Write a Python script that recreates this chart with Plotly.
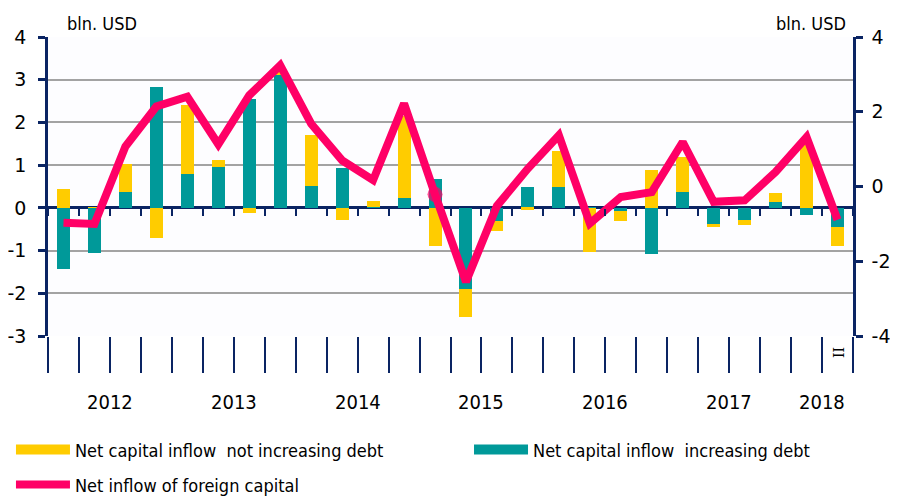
import plotly.graph_objects as go

quarters = ["2012 I", "2012 II", "2012 III", "2012 IV",
            "2013 I", "2013 II", "2013 III", "2013 IV",
            "2014 I", "2014 II", "2014 III", "2014 IV",
            "2015 I", "2015 II", "2015 III", "2015 IV",
            "2016 I", "2016 II", "2016 III", "2016 IV",
            "2017 I", "2017 II", "2017 III", "2017 IV",
            "2018 I", "2018 II"]
years = ["2012", "2013", "2014", "2015", "2016", "2017", "2018"]
quarters_per_year = [4, 4, 4, 4, 4, 4, 2]

not_increasing_debt = [0.44, 0.02, 0.66, -0.70, 1.60, 0.15, -0.12, 0.06,
                       1.18, -0.29, 0.15, 1.91, -0.90, -0.65, -0.23, -0.04,
                       0.86, -1.03, -0.23, 0.88, 0.82, -0.07, -0.10, 0.21,
                       1.47, -0.44]
increasing_debt = [-1.43, -1.05, 0.37, 2.82, 0.80, 0.96, 2.54, 3.11,
                   0.52, 0.93, 0.01, 0.24, 0.68, -1.90, -0.31, 0.48,
                   0.48, -0.01, -0.07, -1.07, 0.37, -0.38, -0.29, 0.13,
                   -0.17, -0.45]
net_inflow = [-0.97, -1.00, 1.07, 2.14, 2.40, 1.13, 2.44, 3.24,
              1.68, 0.70, 0.17, 2.22, -0.21, -2.55, -0.52, 0.48,
              1.37, -0.99, -0.28, -0.15, 1.19, -0.41, -0.37, 0.39,
              1.32, -0.89]
highlighted_quarter = "2015 I"

left_ticks = [4, 3, 2, 1, 0, -1, -2, -3]
right_ticks = [4, 2, 0, -2, -4]
last_quarter_label = "II"
unit_label = "bln. USD"
name_yellow = "Net capital inflow  not increasing debt"
name_teal = "Net capital inflow  increasing debt"
name_line = "Net inflow of foreign capital"

NAVY = "#0a2463"
YELLOW = "#FFCC00"
TEAL = "#009999"
PINK = "#FF0066"
FONT = "DejaVu Sans"
FONT_C = "DejaVu Sans Condensed"

x = list(range(len(quarters)))
n = len(quarters)

# year boundaries and centers from quarter counts
bounds = [-0.5]
centers = []
for q in quarters_per_year:
    centers.append(bounds[-1] + q / 2)
    bounds.append(bounds[-1] + q)
quarter_bounds = [i - 0.5 for i in range(n + 1)]

marker_sizes = [15 if q == highlighted_quarter else 0 for q in quarters]

fig = go.Figure()
fig.add_trace(go.Bar(x=x, y=increasing_debt, name=name_teal,
                     marker=dict(color=TEAL, line=dict(width=0)), width=0.42,
                     legendgroup="teal", showlegend=False, hovertext=quarters))
fig.add_trace(go.Bar(x=x, y=not_increasing_debt, name=name_yellow,
                     marker=dict(color=YELLOW, line=dict(width=0)), width=0.42,
                     legendgroup="yellow", showlegend=False, hovertext=quarters))
fig.add_trace(go.Scatter(x=x, y=net_inflow, name=name_line,
                         mode="lines+markers", line=dict(color=PINK, width=8),
                         marker=dict(color=PINK, size=marker_sizes, line=dict(width=0)),
                         yaxis="y2", legend="legend3", hovertext=quarters))
# legend keys for the bar series (wide rectangles, as in the original)
fig.add_trace(go.Scatter(x=[None], y=[None], name=name_yellow, mode="lines",
                         line=dict(color=YELLOW, width=12), legendgroup="yellow",
                         legend="legend", hoverinfo="skip"))
fig.add_trace(go.Scatter(x=[None], y=[None], name=name_teal, mode="lines",
                         line=dict(color=TEAL, width=12), legendgroup="teal",
                         legend="legend2", hoverinfo="skip"))
# empty helper trace so the zero-line tick axis is drawn
fig.add_trace(go.Scatter(x=[], y=[], xaxis="x2", yaxis="y", showlegend=False,
                         hoverinfo="skip"))

lo, hi = min(left_ticks), max(left_ticks)

leg_common = dict(orientation="h", xanchor="left", yanchor="middle",
                  font=dict(family=FONT_C, size=18, color="black"),
                  itemwidth=54, bgcolor="rgba(0,0,0,0)")

fig.update_layout(
    width=890, height=488,
    margin=dict(l=40, r=45, t=29, b=160, autoexpand=False),
    paper_bgcolor="white",
    plot_bgcolor="#fdfdff",
    barmode="relative",
    bargap=0,
    font=dict(family=FONT, size=19, color="black"),
    showlegend=True,
    legend=dict(x=-0.046, y=-0.381, **leg_common),
    legend2=dict(x=0.523, y=-0.381, **leg_common),
    legend3=dict(x=-0.046, y=-0.498, **leg_common),
    xaxis=dict(range=[-0.5, n - 0.5], tickmode="array", tickvals=bounds,
               ticktext=["" for _ in bounds], ticks="outside", ticklen=77,
               tickwidth=2, tickcolor=NAVY, showgrid=False, zeroline=False,
               showline=False, automargin=False,
               minor=dict(tickmode="array", tickvals=quarter_bounds, ticks="outside",
                          ticklen=36, tickwidth=2, tickcolor=NAVY, showgrid=False)),
    xaxis2=dict(overlaying="x", anchor="free", position=(0 - lo) / (hi - lo),
                range=[-0.5, n - 0.5], tickmode="array", tickvals=quarter_bounds,
                ticks="outside", ticklen=7, tickwidth=2, tickcolor=NAVY,
                showticklabels=False, showgrid=False, zeroline=False, showline=False,
                automargin=False),
    yaxis=dict(range=[lo, hi], tickmode="array", tickvals=left_ticks,
               ticktext=[str(v) for v in left_ticks],
               ticks="outside", ticklen=7, tickwidth=2.5, tickcolor=NAVY,
               showline=True, linecolor=NAVY, linewidth=2.5,
               showgrid=True, gridcolor="#a3a3a3", gridwidth=1.5,
               zeroline=True, zerolinecolor=NAVY, zerolinewidth=2.5,
               ticklabelstandoff=8, automargin=False),
    yaxis2=dict(overlaying="y", side="right", range=[min(right_ticks), max(right_ticks)],
                tickmode="array", tickvals=right_ticks,
                ticktext=[str(v) for v in right_ticks],
                ticks="outside", ticklen=7, tickwidth=2.5, tickcolor=NAVY,
                showline=True, linecolor=NAVY, linewidth=2.5,
                showgrid=False, zeroline=False, ticklabelstandoff=5,
                automargin=False),
)

annotations = []
for c, yl in zip(centers, years):
    annotations.append(dict(x=c, y=-0.222, xref="x", yref="paper", text=yl,
                            showarrow=False, font=dict(family=FONT_C, size=20),
                            xanchor="center", yanchor="middle"))
annotations.append(dict(x=n - 1, y=-0.055, xref="x", yref="paper",
                        text=last_quarter_label, textangle=90, showarrow=False,
                        font=dict(family="DejaVu Serif", size=14),
                        xanchor="center", yanchor="middle"))
annotations.append(dict(x=0.067, y=1.0, xref="paper", yref="paper", text=unit_label,
                        showarrow=False, font=dict(family=FONT_C, size=18),
                        xanchor="center", yanchor="bottom", yshift=1))
annotations.append(dict(x=0.948, y=1.0, xref="paper", yref="paper", text=unit_label,
                        showarrow=False, font=dict(family=FONT_C, size=18),
                        xanchor="center", yanchor="bottom", yshift=1))
fig.update_layout(annotations=annotations)

fig.write_html("out.html")
